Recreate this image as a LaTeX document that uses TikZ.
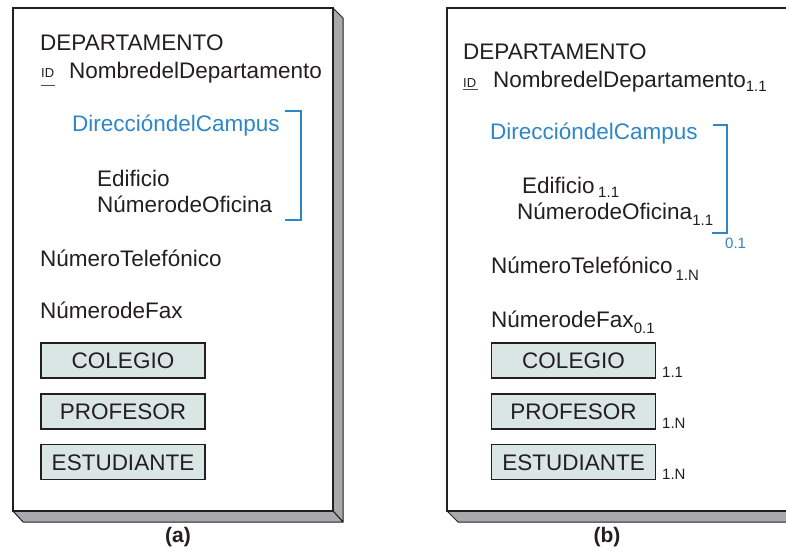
\documentclass[tikz,border=0pt]{standalone}
\usepackage{fontspec}
\setmainfont{Liberation Sans}
\definecolor{ink}{HTML}{231F20}
\definecolor{campus}{HTML}{2E86C8}
\definecolor{shade}{HTML}{A7A9AC}
\definecolor{boxfill}{HTML}{DAE6E4}
\newcommand\mainfs{\fontsize{22.5}{27}\selectfont}
\newcommand\smallfs{\fontsize{15}{18}\selectfont}
\newcommand\cardsub[2]{\raisebox{-#1}{\smallfs #2}}
\tikzset{
  txt/.style={anchor=base west, inner sep=0pt, text=ink, font=\mainfs},
  bluetxt/.style={txt, text=campus},
  idtxt/.style={anchor=base west, inner sep=0pt, text=ink, font=\fontsize{13}{15}\selectfont},
  card/.style={anchor=base west, inner sep=0pt, text=ink, font=\smallfs},
  entbox/.style={draw=ink, line width=1.1pt, fill=boxfill, minimum width=164pt, minimum height=35pt, inner sep=0pt, text=ink, font=\mainfs, text height=16pt, text depth=0pt},
  front/.style={draw=ink, line width=1.4pt, fill=white},
  sidepanel/.style={draw=ink, line width=1pt, fill=shade, line join=round},
  bracket/.style={draw=campus, line width=1.2pt},
  caption/.style={inner sep=0pt, text=ink, font=\fontsize{21}{24}\selectfont\bfseries}
}
\begin{document}
\begin{tikzpicture}[x=1pt,y=-1pt]
\useasboundingbox (0,0) rectangle (786,558);
\clip (0,0) rectangle (786,558);

% ---------------- panel (a) ----------------
\draw[sidepanel] (333,8) -- (343,18) -- (343,522) -- (333,511) -- cycle;
\draw[sidepanel] (13,511) -- (333,511) -- (343,522) -- (23,522) -- cycle;
\draw[front] (13,8) rectangle (333,511);

\node[txt] (aDep) at (40,50.5) {DEPARTAMENTO};
\node[idtxt] (aId) at (41,77) {ID};
\draw[ink!80, line width=0.9pt] (aId.south west) ++(-0.5,8) coordinate (aIdU1) -- ++(14.5,0) coordinate (aIdU2);
\node[txt] (aNom) at (69,78) {NombredelDepartamento};
\node[bluetxt] (aDir) at (72,131) {DireccióndelCampus};
\node[txt] (aEdi) at (97,186) {Edificio};
\node[txt] (aOfi) at (97,212) {NúmerodeOficina};
\coordinate (aBr1) at (285,111);
\coordinate (aBr2) at (285,220);
\draw[bracket] (aBr1) -- ++(16,0) |- (aBr2);
\node[txt] (aTel) at (40,266) {NúmeroTelefónico};
\node[txt] (aFax) at (40,318) {NúmerodeFax};
\node[entbox] (aCol) at (123,360.5) {COLEGIO};
\node[entbox] (aPro) at (123,411.5) {PROFESOR};
\node[entbox] (aEst) at (123,462) {ESTUDIANTE};
\node[caption] (capA) at (178,537.5) {(a)};

% ---------------- panel (b) ----------------
\draw[sidepanel] (447,511) -- (800,511) -- (800,522) -- (458,522) -- cycle;
\draw[front] (447,8) rectangle (800,511);

\node[txt] (bDep) at (463,59) {DEPARTAMENTO};
\node[idtxt] (bId) at (463,87) {ID};
\draw[ink!80, line width=0.9pt] (bId.south west) ++(-0.5,2.5) coordinate (bIdU1) -- ++(15,0) coordinate (bIdU2);
\node[txt] (bNom) at (493,87.3) {NombredelDepartamento\cardsub{4.5pt}{1.1}};
\node[bluetxt] (bDir) at (490,139) {DireccióndelCampus};
\node[txt] (bEdi) at (522,193) {Edificio\hspace{3.5pt}\cardsub{4pt}{1.1}};
\node[txt] (bOfi) at (517,219) {NúmerodeOficina\cardsub{6pt}{1.1}};
\coordinate (bBr1) at (713,125);
\coordinate (bBr2) at (712,233);
\draw[bracket] (bBr1) -- ++(14,0) |- (bBr2);
\node[card, text=campus] (bOpt) at (725,248) {0.1};
\node[txt] (bTel) at (491,273) {NúmeroTelefónico\hspace{3pt}\cardsub{7pt}{1.N}};
\node[txt] (bFax) at (491,327) {NúmerodeFax\cardsub{6.5pt}{0.1}};
\node[entbox] (bCol) at (573.5,360.5) {COLEGIO};
\node[entbox] (bPro) at (573.5,411.5) {PROFESOR};
\node[entbox] (bEst) at (573.5,462) {ESTUDIANTE};
\node[card] (bColC) at (662,377) {1.1};
\node[card] (bProC) at (662,428) {1.N};
\node[card] (bEstC) at (662,479) {1.N};
\node[caption] (capB) at (607,537.5) {(b)};
\end{tikzpicture}
\end{document}
